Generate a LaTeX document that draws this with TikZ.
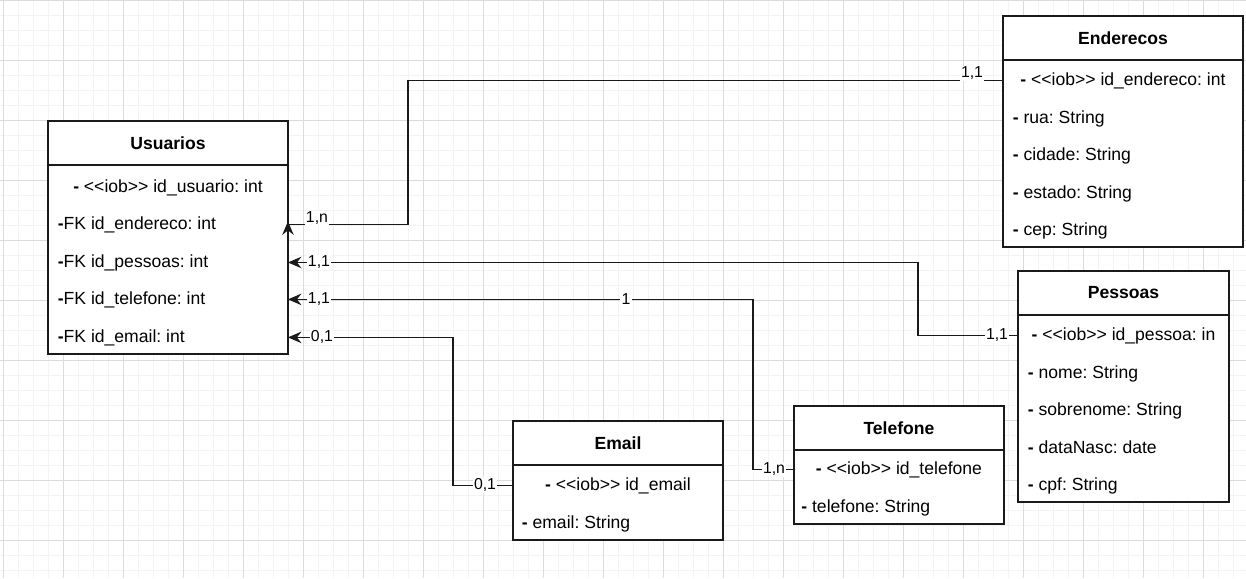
\documentclass[tikz,border=0pt]{standalone}
\usepackage{fontspec}
\setmainfont{Liberation Sans}
\frenchspacing
\usetikzlibrary{arrows.meta, positioning, calc}
\definecolor{erline}{HTML}{1A1A1A}
\definecolor{gridminor}{HTML}{F3F3F3}
\definecolor{gridmajor}{HTML}{DCDCDC}

\begin{document}
\begin{tikzpicture}[x=0.02cm, y=-0.02cm,
    head/.style={draw=erline, line width=0.9pt, fill=white, inner sep=0pt, outer sep=0pt, anchor=north west, minimum height=0.88cm, font=\fontsize{10}{12}\selectfont\bfseries},
    body/.style={draw=erline, line width=0.9pt, fill=white, inner sep=0pt, outer sep=0pt},
    attr/.style={inner sep=0pt, anchor=base west, font=\fontsize{10}{12}\selectfont},
    key/.style={inner sep=0pt, anchor=base, font=\fontsize{10}{12}\selectfont},
    card/.style={fill=white, inner sep=0.8pt, font=\fontsize{9}{11}\selectfont},
    link/.style={draw=erline, line width=0.7pt},
    arrow/.style={link, -{Stealth[length=2.7mm, width=2.3mm, inset=0.9mm]}}
]
\useasboundingbox (0,0) rectangle (1246,578);

% Background grid
\fill[white] (0,0) rectangle (1246,578);
\foreach \x in {3.3,18.3,...,1246} \draw[gridminor, line width=0.5pt] (\x,0) -- (\x,578);
\foreach \y in {0.3,15.3,...,578} \draw[gridminor, line width=0.5pt] (0,\y) -- (1246,\y);
\foreach \x in {3.3,63.3,...,1246} \draw[gridmajor, line width=0.5pt] (\x,0) -- (\x,578);
\foreach \y in {0.3,60.3,...,578} \draw[gridmajor, line width=0.5pt] (0,\y) -- (1246,\y);

% Usuarios
\node[head, minimum width=4.8cm] (usuh) at (48,121) {Usuarios};
\node[body, minimum width=4.8cm, minimum height=3.78cm, below=0pt of usuh] (usub) {};
\node[key] (usur0) at (168,192) {\textbf{-} <{}<iob>{}> id\_usuario: int};
\node[attr] (usur1) at (57.5,229) {\textbf{-}FK id\_endereco: int};
\node[attr] (usur2) at (57.5,267) {\textbf{-}FK id\_pessoas: int};
\node[attr] (usur3) at (57.5,304) {\textbf{-}FK id\_telefone: int};
\node[attr] (usur4) at (57.5,342) {\textbf{-}FK id\_email: int};

% Enderecos
\node[head, minimum width=4.8cm] (endh) at (1003,16) {Enderecos};
\node[body, minimum width=4.8cm, minimum height=3.74cm, below=0pt of endh] (endb) {};
\node[key] (endr0) at (1123,85) {\textbf{-} <{}<iob>{}> id\_endereco: int};
\node[attr] (endr1) at (1012.5,123) {\textbf{-} rua: String};
\node[attr] (endr2) at (1012.5,160.5) {\textbf{-} cidade: String};
\node[attr] (endr3) at (1012.5,198) {\textbf{-} estado: String};
\node[attr] (endr4) at (1012.5,235.5) {\textbf{-} cep: String};

% Pessoas
\node[head, minimum width=4.22cm] (pesh) at (1018,271) {Pessoas};
\node[body, minimum width=4.22cm, minimum height=3.74cm, below=0pt of pesh] (pesb) {};
\node[key] (pesr0) at (1123.5,340) {\textbf{-} <{}<iob>{}> id\_pessoa: in};
\node[attr] (pesr1) at (1027.5,378) {\textbf{-} nome: String};
\node[attr] (pesr2) at (1027.5,415.5) {\textbf{-} sobrenome: String};
\node[attr] (pesr3) at (1027.5,453) {\textbf{-} dataNasc: date};
\node[attr] (pesr4) at (1027.5,490) {\textbf{-} cpf: String};

% Email
\node[head, minimum width=4.2cm] (emah) at (513,421) {Email};
\node[body, minimum width=4.2cm, minimum height=1.5cm, below=0pt of emah] (emab) {};
\node[key] (emar0) at (618,490) {\textbf{-} <{}<iob>{}> id\_email};
\node[attr] (emar1) at (521.5,528) {\textbf{-} email: String};

% Telefone
\node[head, minimum width=4.2cm] (telh) at (794,406) {Telefone};
\node[body, minimum width=4.2cm, minimum height=1.48cm, below=0pt of telh] (telb) {};
\node[key] (telr0) at (899,474) {\textbf{-} <{}<iob>{}> id\_telefone};
\node[attr] (telr1) at (801,512.5) {\textbf{-} telefone: String};

% Relationships
\coordinate (bendA) at (408,0);
\coordinate (bendB) at (918,0);
\coordinate (bendC) at (753,0);
\coordinate (bendD) at (453,0);
\draw[arrow] (endb.west |- endr0) -| (bendA |- usur1) -- (usub.east |- usur1) -- ++(0,-3);
\draw[arrow] (pesb.west |- pesr0) -| (bendB |- usur2) -- (usub.east |- usur2);
\draw[arrow] (telb.west |- telr0) -| (bendC |- usur3) -- (usub.east |- usur3);
\draw[arrow] (emab.west |- emar0) -| (bendD |- usur4) -- (usub.east |- usur4);

% Cardinalities
\node[card] at ($(endb.west |- endr0)+(-31,-7)$) {1,1};
\node[card] at ($(usub.east |- usur1)+(29,-6)$) {1,n};
\node[card] at ($(usub.east |- usur2)+(31,0)$) {1,1};
\node[card] at ($(pesb.west |- pesr0)+(-21,0)$) {1,1};
\node[card] at ($(usub.east |- usur3)+(31,0)$) {1,1};
\node[card] at ($(usub.east |- usur3)+(338,0)$) {1};
\node[card] at ($(telb.west |- telr0)+(-20,0)$) {1,n};
\node[card] at ($(usub.east |- usur4)+(34,0)$) {0,1};
\node[card] at ($(emab.west |- emar0)+(-28,0)$) {0,1};

\end{tikzpicture}
\end{document}
